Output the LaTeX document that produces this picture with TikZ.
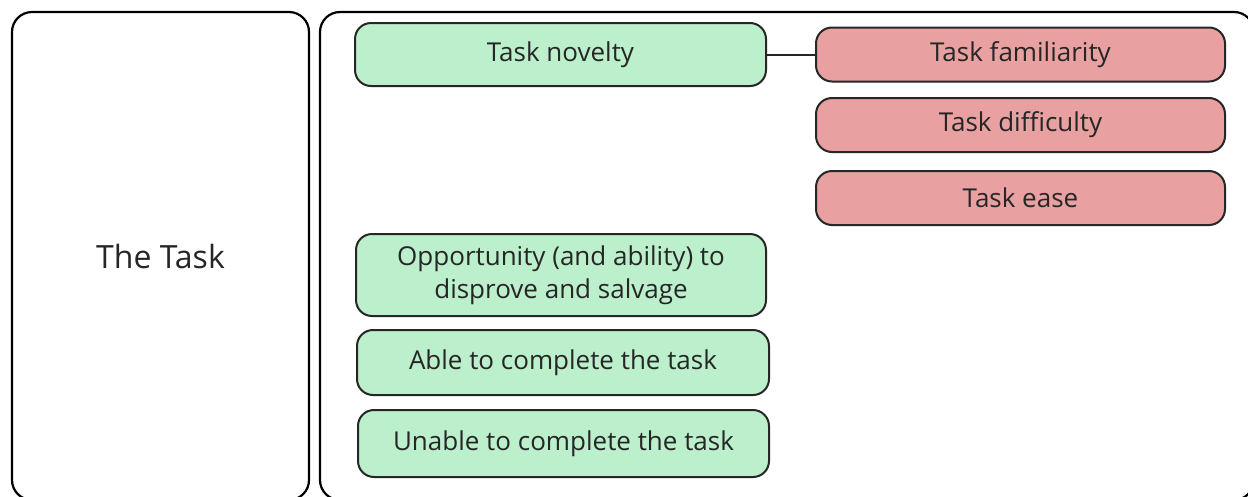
\documentclass[tikz,border=0pt]{standalone}
\usepackage{fontspec}
\setmainfont{Open Sans}
\definecolor{mint}{HTML}{BCEFCB}
\definecolor{rose}{HTML}{E8A0A0}
\definecolor{ink}{HTML}{262626}
\begin{document}
\begin{tikzpicture}[x=1pt,y=-1pt,
  panel/.style={draw=black,line width=2.2pt,rounded corners=20pt,inner sep=0pt},
  item/.style={draw=black!85,line width=2pt,rounded corners=16pt,text=ink,
    inner sep=0pt,font=\fontsize{26}{33}\selectfont,align=center},
  good/.style={item,fill=mint,minimum width=410pt},
  bad/.style={item,fill=rose,minimum width=409pt,minimum height=54pt}]
\useasboundingbox (0,0) rectangle (1248,496);
\fill[white] (0,0) rectangle (1248,496);
% outer panels
\node[panel,minimum width=297pt,minimum height=488pt,
  font=\fontsize{32}{38}\selectfont,text=ink] (task) at (160.5,256) {The Task};
\node[panel,minimum width=934pt,minimum height=488pt] (body) at (787,256) {};
% green items
\node[good,minimum width=411pt,minimum height=63pt] (nov) at (560.5,54.5) {Task novelty};
\node[good,minimum height=82pt] (opp) at (561,275) {Opportunity (and ability) to\\disprove and salvage};
\node[good,minimum width=412pt,minimum height=65pt] (able) at (563,362.5) {Able to complete the task};
\node[good,minimum width=411pt,minimum height=67pt] (unable) at (563.5,443.5) {Unable to complete the task};
% red items
\node[bad] (fam) at (1020.5,54.5) {Task familiarity};
\node[bad] (diff) at (1020.5,125) {Task difficulty};
\node[bad] (ease) at (1020.5,198) {Task ease};
% link between novelty and familiarity
\draw[line width=2pt,black!85] (nov.east) -- (fam.west);
\end{tikzpicture}
\end{document}
